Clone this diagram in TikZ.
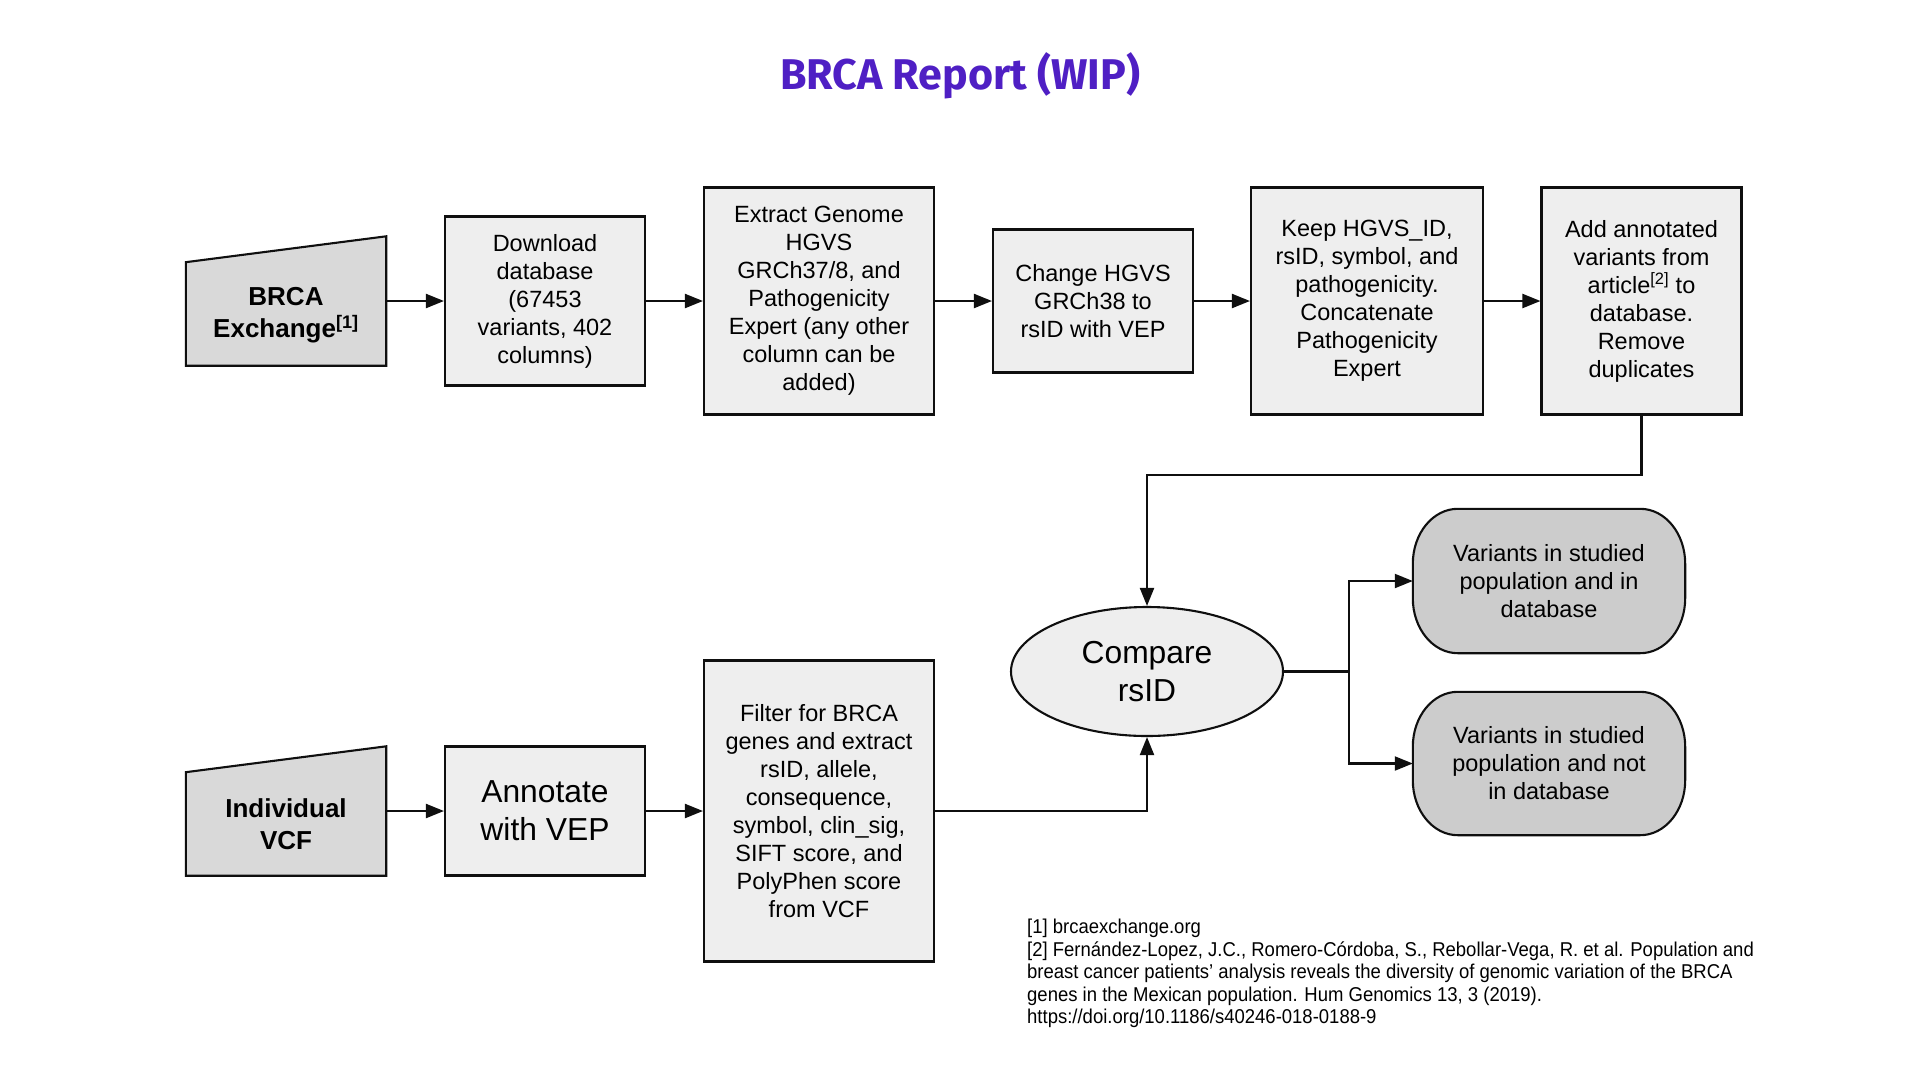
\documentclass[tikz,border=0pt]{standalone}
\usepackage{fontspec}
\setmainfont{Liberation Sans}
\newfontfamily\titlefont{Fira Sans}
\newfontfamily\notefont[FakeStretch=0.925]{Liberation Sans}
\usetikzlibrary{arrows.meta,calc,shapes.geometric,backgrounds}
\definecolor{titlepurple}{RGB}{79,31,196}
\definecolor{boxfill}{RGB}{238,238,238}
\definecolor{trapfill}{RGB}{217,217,217}
\definecolor{termfill}{RGB}{204,204,204}
\definecolor{edgec}{RGB}{15,15,15}
\newcommand{\termpath}[1]{%
  ($(#1.north west)+(45,0)$) -- ($(#1.north east)+(-45,0)$)
  .. controls ($(#1.north east)+(-20.1,0)$) and ($(#1.north east)+(0,24.6)$) .. ($(#1.north east)+(0,55)$)
  -- ($(#1.south east)+(0,-55)$)
  .. controls ($(#1.south east)+(0,-24.6)$) and ($(#1.south east)+(-20.1,0)$) .. ($(#1.south east)+(-45,0)$)
  -- ($(#1.south west)+(45,0)$)
  .. controls ($(#1.south west)+(20.1,0)$) and ($(#1.south west)+(0,-24.6)$) .. ($(#1.south west)+(0,-55)$)
  -- ($(#1.north west)+(0,55)$)
  .. controls ($(#1.north west)+(0,24.6)$) and ($(#1.north west)+(20.1,0)$) .. cycle}
\begin{document}
\begin{tikzpicture}[x=1pt,y=-1pt,
  procbox/.style={draw=edgec,line width=2.1pt,fill=boxfill,rectangle,inner sep=0pt,align=center,
    font=\fontsize{23.5}{28}\selectfont},
  bigtext/.style={font=\fontsize{31.8}{38}\selectfont},
  invbox/.style={rectangle,inner sep=0pt,align=center,font=\fontsize{23.5}{28}\selectfont},
  trapshape/.style={draw=edgec,line width=2.1pt,fill=trapfill,line join=miter},
  termshape/.style={draw=edgec,line width=2.1pt,fill=termfill},
  traptext/.style={align=center,inner sep=0pt,font=\bfseries\fontsize{26}{32}\selectfont},
  arr/.style={draw=edgec,line width=2.1pt,-{Triangle[length=18pt,width=14pt]}},
  ln/.style={draw=edgec,line width=2.1pt},
]
\useasboundingbox (0,0) rectangle (1920,1080);

% title
\node[font=\titlefont\bfseries\fontsize{43}{50}\selectfont,text=titlepurple] (title) at (960,76) {BRCA Report (WIP)};

% top row
\node[invbox,minimum width=200pt,minimum height=129pt] (brca) at (286,301) {};
\node[procbox,minimum width=200pt,minimum height=169pt] (dl) at (545,301) {Download\\database\\(67453\\variants, 402\\columns)};
\node[procbox,minimum width=230pt,minimum height=227pt] (ext) at (819,301) {Extract Genome\\HGVS\\GRCh37/8, and\\Pathogenicity\\Expert (any other\\column can be\\added)};
\node[procbox,minimum width=200pt,minimum height=143pt] (chg) at (1093,301) {Change HGVS\\GRCh38 to\\rsID with VEP};
\node[procbox,minimum width=232pt,minimum height=227pt] (keep) at (1367,301) {Keep HGVS\_ID,\\rsID, symbol, and\\pathogenicity.\\Concatenate\\Pathogenicity\\Expert};
\node[procbox,minimum width=200pt,minimum height=227pt] (add) at (1641.5,301) {Add annotated\\variants from\\article\textsuperscript{[2]} to\\database.\\Remove\\duplicates};

% bottom row
\node[invbox,minimum width=200pt,minimum height=129pt] (vcf) at (286,811) {};
\node[procbox,bigtext,minimum width=200pt,minimum height=129pt] (ann) at (545,811) {Annotate\\with VEP};
\node[procbox,minimum width=230pt,minimum height=301pt] (filt) at (819,811) {Filter for BRCA\\genes and extract\\rsID, allele,\\consequence,\\symbol, clin\_sig,\\SIFT score, and\\PolyPhen score\\from VCF};

\node[procbox,bigtext,ellipse,minimum width=272pt,minimum height=129pt] (cmp) at (1147,671.5) {Compare\\rsID};

\node[invbox,minimum width=272pt,minimum height=144pt] (r1) at (1549,581) {Variants in studied\\population and in\\database};
\node[invbox,minimum width=272pt,minimum height=143pt] (r2) at (1549,763.5) {Variants in studied\\population and not\\in database};

\begin{scope}[on background layer]
\draw[trapshape] (brca.south west) -- ($(brca.north west)!0.2!(brca.south west)$) -- (brca.north east) -- (brca.south east) -- cycle;
\draw[trapshape] (vcf.south west) -- ($(vcf.north west)!0.2!(vcf.south west)$) -- (vcf.north east) -- (vcf.south east) -- cycle;
\draw[termshape] \termpath{r1};
\draw[termshape] \termpath{r2};
\end{scope}

\node[traptext] (brcatext) at (286,315) {BRCA\\Exchange\textsuperscript{[1]}};
\node[traptext] (vcftext) at (286,824) {Individual\\VCF};

% connectors
\draw[arr] (brca.east) -- (dl.west);
\draw[arr] (dl.east) -- (ext.west);
\draw[arr] (ext.east) -- (chg.west);
\draw[arr] (chg.east) -- (keep.west);
\draw[arr] (keep.east) -- (add.west);
\draw[arr] (add.south) -- ++(0,59) -| (cmp.north);
\draw[arr] (vcf.east) -- (ann.west);
\draw[arr] (ann.east) -- (filt.west);
\draw[arr] (filt.east) -| (cmp.south);
\draw[ln] (cmp.east) -- ++(65,0) coordinate (split);
\draw[arr] (split) |- (r1.west);
\draw[arr] (split) |- (r2.west);

% references
\node[anchor=north west,align=left,inner sep=0pt,font=\notefont\fontsize{20}{22.5}\selectfont] (notes) at (1027,919)
{{[1]} brcaexchange.org\\
{[2]} Fernández-Lopez, J.C., Romero-Córdoba, S., Rebollar-Vega, R. et al. Population and\\
breast cancer patients’ analysis reveals the diversity of genomic variation of the BRCA\\
genes in the Mexican population. Hum Genomics 13, 3 (2019).\\
https://doi.org/10.1186/s40246-018-0188-9};
\end{tikzpicture}
\end{document}
